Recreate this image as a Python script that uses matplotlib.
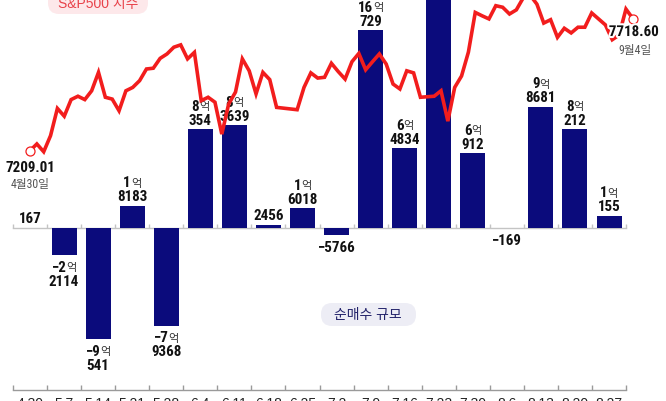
import matplotlib
matplotlib.use('Agg')
import matplotlib.pyplot as plt
import matplotlib.patheffects as pe
from matplotlib import font_manager
from matplotlib.patches import FancyBboxPatch
from matplotlib.transforms import IdentityTransform

# 주간 날짜
weeks = ['4.30', '5.7', '5.14', '5.21', '5.28', '6.4', '6.11', '6.18', '6.25',
         '7.2', '7.9', '7.16', '7.23', '7.30', '8.6', '8.13', '8.20', '8.27']
# 순매수 규모 (억 단위)
net_buy = [0.0167, -2.2114, -9.0541, 1.8183, -7.9368, 8.0354, 8.3639, 0.2456, 1.6018,
           -0.5766, 16.0729, 6.4834, 21.3, 6.0912, -0.0169, 9.8681, 8.0212, 1.0155]
# 라벨 (억 부분 / 나머지)
lab_eok = ['', '−2', '−9', '1', '−7', '8', '8', '', '1',
           '', '16', '6', '', '6', '', '9', '8', '1']
lab_rest = ['167', '2114', '541', '8183', '9368', '354', '3639', '2456', '6018',
            '−5766', '729', '4834', '', '912', '−169', '8681', '212', '155']

# S&P500 지수 (거래일 번호, 값)
spx_day = list(range(0, 37)) + list(range(39, 58)) + list(range(59, 89))
spx = [7209.01, 7235, 7205, 7267, 7372, 7342, 7406, 7419, 7406, 7440,
       7511, 7415, 7408, 7363, 7440, 7453, 7479, 7524, 7527, 7565,
       7582, 7608, 7617, 7563, 7588, 7402, 7415, 7396, 7273, 7389,
       7435, 7563, 7517, 7428, 7511, 7483, 7376,
       7367, 7453, 7509, 7489, 7492, 7546, 7514, 7485, 7552, 7584,
       7521, 7552, 7582, 7543, 7466, 7447, 7517, 7509, 7415,
       7419, 7440, 7323, 7453, 7497, 7589, 7742, 7729, 7717, 7768,
       7762, 7736, 7752, 7798, 7809, 7774, 7701, 7714, 7646, 7681,
       7663, 7685, 7685, 7740, 7717, 7694, 7637, 7655, 7755, 7718.60]

names = {f.name for f in font_manager.fontManager.ttflist}
num_font = 'Liberation Sans'
for cand in ['Roboto Condensed', 'Liberation Sans Narrow', 'DejaVu Sans Condensed']:
    if cand in names:
        num_font = cand
        break
plt.rcParams['font.family'] = [num_font, 'Noto Sans CJK KR', 'DejaVu Sans']

W, H = 666, 402
fig = plt.figure(figsize=(W / 100, H / 100), dpi=100)
renderer = fig.canvas.get_renderer()

# 막대 축: 간격 34.06px, 0선 y=229px, 12.3px/억
step, x0px, zero_px, ppu = 34.06, 13, 229, 12.3
ax = fig.add_axes([0, 0, 1, 1])
ax.set_xlim(-x0px / step, (W - x0px) / step)
ax.set_ylim((zero_px - H) / ppu, zero_px / ppu)
ax.axis('off')

n = len(weeks)
xs = [i + 0.5 for i in range(n)]
ax.bar(xs, net_buy, width=25 / step, color='#0b0b7c', zorder=3)

# 0선과 눈금
ax.plot([0, n], [0, 0], color='#c4c4c4', lw=1, zorder=2)
ax.vlines(range(n + 1), 0, 4 / ppu, color='#c4c4c4', lw=1, zorder=2)

# 아래 축 (날짜는 그림 아래 끝에서 잘림)
yb = (zero_px - 391) / ppu
ax.plot([0, n], [yb, yb], color='#9a9a9a', lw=1)
ax.vlines(range(n + 1), yb, yb + 5 / ppu, color='#9a9a9a', lw=1)
for x, w in zip(xs, weeks):
    ax.text(x, (zero_px - 397) / ppu, w, ha='center', va='top', fontsize=10,
            family='Liberation Sans', color='#222222')

# 막대 라벨
num_kw = dict(fontsize=10.8, fontweight='bold', color='#111111')
gap = 0
for x, v, e, r in zip(xs, net_buy, lab_eok, lab_rest):
    if v >= 0:
        dy_rest, dy_eok = 9.5, 23.5
    elif e:
        dy_rest, dy_eok = -25.5, -11.5
    else:
        dy_rest = -12
    if r:
        ax.annotate(r, (x, v), xytext=(0, dy_rest), textcoords='offset pixels',
                    ha='center', va='center', zorder=4, **num_kw)
    if e:
        t = ax.annotate(e, (x, v), xytext=(0, dy_eok), textcoords='offset pixels',
                        ha='right', va='center', zorder=4, **num_kw)
        u = ax.annotate('억', (x, v), xytext=(gap, dy_eok - 0.5), textcoords='offset pixels',
                        ha='left', va='center', fontsize=8, family='Noto Sans CJK KR',
                        color='#333333', zorder=4)
        wd = t.get_window_extent(renderer).width
        we = u.get_window_extent(renderer).width
        off = (wd - we - gap) / 2
        t.xyann = (off, dy_eok)
        u.xyann = (off + gap, dy_eok - 0.5)

# S&P500 선 축: 6.85px/일, 7209.01 -> y=151.7px, 3.855pt/px
dstep, d0px, base_px, vpp = 6.85, 30, 151.7, 3.855
ax2 = fig.add_axes([0, 0, 1, 1], zorder=5)
ax2.set_xlim(-d0px / dstep, (W - d0px) / dstep)
ax2.set_ylim(spx[0] - (H - base_px) * vpp, spx[0] + base_px * vpp)
ax2.axis('off')
ax2.patch.set_alpha(0)

red = '#f21d1d'
ax2.plot(spx_day, spx, color=red, lw=2.6, solid_joinstyle='miter', zorder=5)
ax2.plot([spx_day[0], spx_day[-1]], [spx[0], spx[-1]], 'o', ms=6.5, mfc='white',
         mec=red, mew=0.9, zorder=6)

halo = [pe.withStroke(linewidth=3, foreground='white')]
ax2.annotate('7209.01', (spx_day[0], spx[0]), xytext=(0, -16.5), textcoords='offset pixels',
             ha='center', va='center', **num_kw)
ax2.annotate('4월30일', (spx_day[0], spx[0]), xytext=(0, -32.5), textcoords='offset pixels',
             ha='center', va='center', fontsize=8.5, color='#555555')
ax2.annotate('7718.60', (spx_day[-1], spx[-1]), xytext=(1, -13.5), textcoords='offset pixels',
             ha='center', va='center', path_effects=halo, zorder=7, **num_kw)
ax2.annotate('9월4일', (spx_day[-1], spx[-1]), xytext=(2, -30.5), textcoords='offset pixels',
             ha='center', va='center', fontsize=8.5, color='#555555', zorder=7)

# 범례 상자
def px_box(xa, ya, xb, yb_, fc):
    box = FancyBboxPatch((xa, H - yb_), xb - xa, yb_ - ya,
                         boxstyle='round,pad=0,rounding_size=11',
                         transform=IdentityTransform(), fc=fc, ec='none', zorder=1)
    fig.add_artist(box)

px_box(48, -12, 148, 15, '#fde8ea')
fig.text(98 / W, 1 - 4 / H, 'S&P500 지수', ha='center', va='center', fontsize=10,
         color='#e8424a', family=['Liberation Sans', 'Noto Sans CJK KR'])
px_box(321, 304, 416, 327, '#ededf5')
fig.text(368 / W, 1 - 315.5 / H, '순매수 규모', ha='center', va='center', fontsize=10,
         color='#22226a', family=['Liberation Sans', 'Noto Sans CJK KR'])

fig.savefig('out.png', dpi=100)
